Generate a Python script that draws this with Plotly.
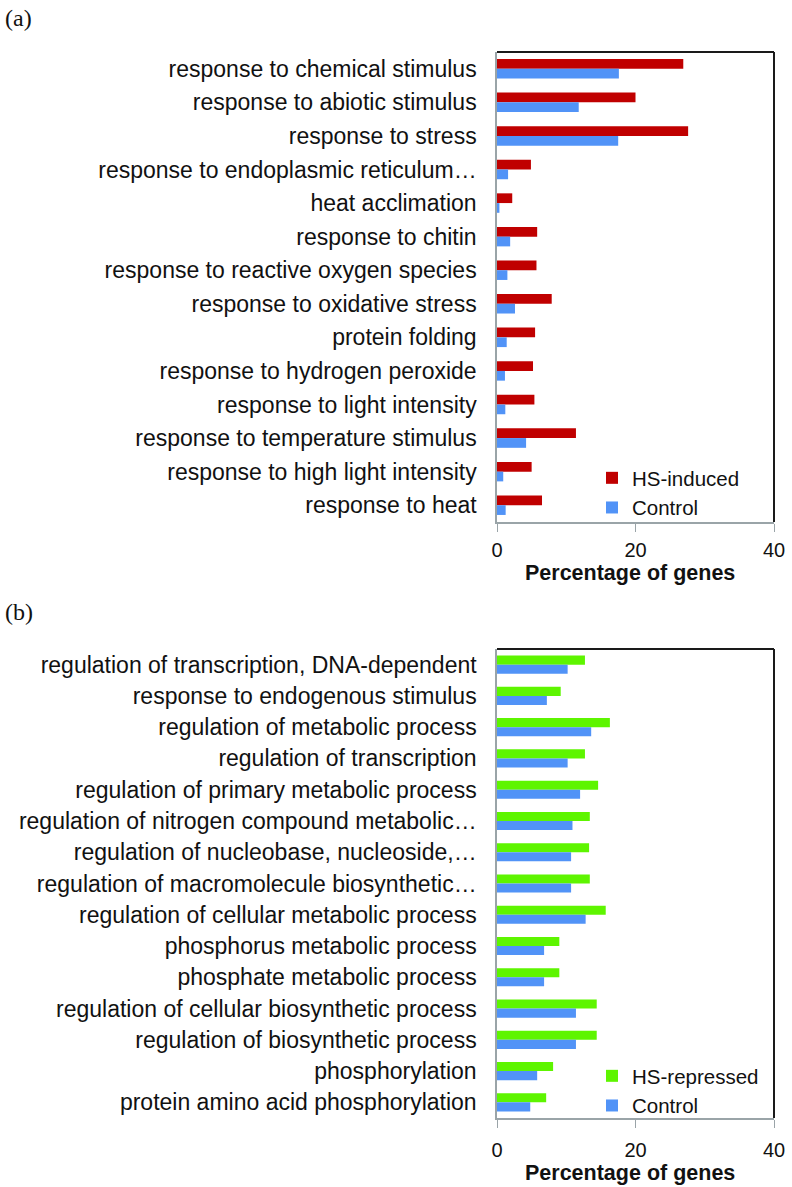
import plotly.graph_objects as go

# ---------------- data ----------------
cats_a = [
    "response to chemical stimulus",
    "response to abiotic stimulus",
    "response to stress",
    "response to endoplasmic reticulum…",
    "heat acclimation",
    "response to chitin",
    "response to reactive oxygen species",
    "response to oxidative stress",
    "protein folding",
    "response to hydrogen peroxide",
    "response to light intensity",
    "response to temperature stimulus",
    "response to high light intensity",
    "response to heat",
]
hs_induced = [26.9, 20.0, 27.6, 4.9, 2.2, 5.8, 5.7, 7.9, 5.5, 5.2, 5.4, 11.4, 5.0, 6.5]
control_a = [17.6, 11.8, 17.5, 1.6, 0.35, 1.9, 1.5, 2.6, 1.4, 1.15, 1.2, 4.2, 0.9, 1.25]

cats_b = [
    "regulation of transcription, DNA-dependent",
    "response to endogenous stimulus",
    "regulation of metabolic process",
    "regulation of transcription",
    "regulation of primary metabolic process",
    "regulation of nitrogen compound metabolic…",
    "regulation of nucleobase, nucleoside,…",
    "regulation of macromolecule biosynthetic…",
    "regulation of cellular metabolic process",
    "phosphorus metabolic process",
    "phosphate metabolic process",
    "regulation of cellular biosynthetic process",
    "regulation of biosynthetic process",
    "phosphorylation",
    "protein amino acid phosphorylation",
]
hs_repressed = [12.7, 9.2, 16.3, 12.7, 14.6, 13.4, 13.3, 13.4, 15.7, 9.0, 9.0, 14.4, 14.4, 8.1, 7.1]
control_b = [10.2, 7.2, 13.6, 10.2, 12.0, 10.9, 10.7, 10.7, 12.8, 6.8, 6.8, 11.4, 11.4, 5.8, 4.8]

x_ticks = [0, 20, 40]
x_title = "Percentage of genes"

# ---------------- style ----------------
W, H = 792, 1187
RED, BLUE, GREEN = "#C00000", "#5193F7", "#5EF500"
FONT = "Arial, Liberation Sans, sans-serif"
TXT = "#111111"

def fx(p):
    return p / W

def fy(p):
    return 1 - p / H

fig = go.Figure()
fig.add_trace(go.Bar(y=cats_a, x=hs_induced, orientation="h", name="HS-induced",
                     marker=dict(color=RED, line=dict(width=0)), xaxis="x", yaxis="y", legend="legend"))
fig.add_trace(go.Bar(y=cats_a, x=control_a, orientation="h", name="Control",
                     marker=dict(color=BLUE, line=dict(width=0)), xaxis="x", yaxis="y", legend="legend"))
fig.add_trace(go.Bar(y=cats_b, x=hs_repressed, orientation="h", name="HS-repressed",
                     marker=dict(color=GREEN, line=dict(width=0)), xaxis="x2", yaxis="y2", legend="legend2"))
fig.add_trace(go.Bar(y=cats_b, x=control_b, orientation="h", name="Control",
                     marker=dict(color=BLUE, line=dict(width=0)), xaxis="x2", yaxis="y2", legend="legend2"))

xa_common = dict(
    range=[0, 40], tickvals=x_ticks, ticks="outside", ticklen=8, tickcolor="#9AA4A8",
    showline=True, linecolor="#9AA4A8", linewidth=1.5, showgrid=False, zeroline=False,
    tickfont=dict(family=FONT, size=20, color=TXT), automargin=False,
    ticklabeloverflow="allow",
    domain=[fx(497), fx(774)],
)
ya_common = dict(
    type="category", autorange="reversed", showline=True, linecolor="#9AA4A8", linewidth=1.5,
    ticks="", showgrid=False, zeroline=False, automargin=False, ticklabelstandoff=14,
    tickfont=dict(family=FONT, size=23, color=TXT),
)

fig.update_layout(
    width=W, height=H,
    margin=dict(l=0, r=0, t=0, b=0),
    paper_bgcolor="white", plot_bgcolor="white",
    barmode="group", bargap=0.42, bargroupgap=0,
    xaxis=dict(**xa_common, anchor="y", ticklabelstandoff=1),
    yaxis=dict(**ya_common, domain=[fy(522), fy(52)], anchor="x", categoryarray=cats_a),
    xaxis2=dict(**xa_common, anchor="y2", ticklabelstandoff=5),
    yaxis2=dict(**ya_common, domain=[fy(1118), fy(649)], anchor="x2", categoryarray=cats_b),
    legend=dict(x=fx(592), y=fy(493), xanchor="left", yanchor="middle", traceorder="normal",
                font=dict(family=FONT, size=20.5, color=TXT), bgcolor="rgba(0,0,0,0)",
                itemwidth=30, tracegroupgap=0),
    legend2=dict(x=fx(592), y=fy(1091), xanchor="left", yanchor="middle", traceorder="normal",
                 font=dict(family=FONT, size=20.5, color=TXT), bgcolor="rgba(0,0,0,0)",
                 itemwidth=30, tracegroupgap=0),
    showlegend=True,
)

# frame: black top and right edges
for xr, yr in (("x domain", "y domain"), ("x2 domain", "y2 domain")):
    fig.add_shape(type="line", xref=xr, yref=yr, x0=0, x1=1, y0=1, y1=1,
                  line=dict(color="#1a1a1a", width=2))
    fig.add_shape(type="line", xref=xr, yref=yr, x0=1, x1=1, y0=0, y1=1,
                  line=dict(color="#1a1a1a", width=2))

# axis titles
for ypx in (573, 1173):
    fig.add_annotation(text=f"<b>{x_title}</b>", xref="paper", yref="paper", x=fx(630), y=fy(ypx),
                       xanchor="center", yanchor="middle", showarrow=False,
                       font=dict(family=FONT, size=21.5, color=TXT))

# panel labels
for txt, ypx in (("(a)", 18), ("(b)", 612)):
    fig.add_annotation(text=txt, xref="paper", yref="paper", x=fx(3), y=fy(ypx),
                       xanchor="left", yanchor="middle", showarrow=False,
                       font=dict(family="Times New Roman, Liberation Serif, serif", size=24, color=TXT))

# remove the browser's default 8px body margin so the figure fills the window
fig.write_html("out.html", config={"displayModeBar": False},
               post_script="document.body.style.margin='0';")
